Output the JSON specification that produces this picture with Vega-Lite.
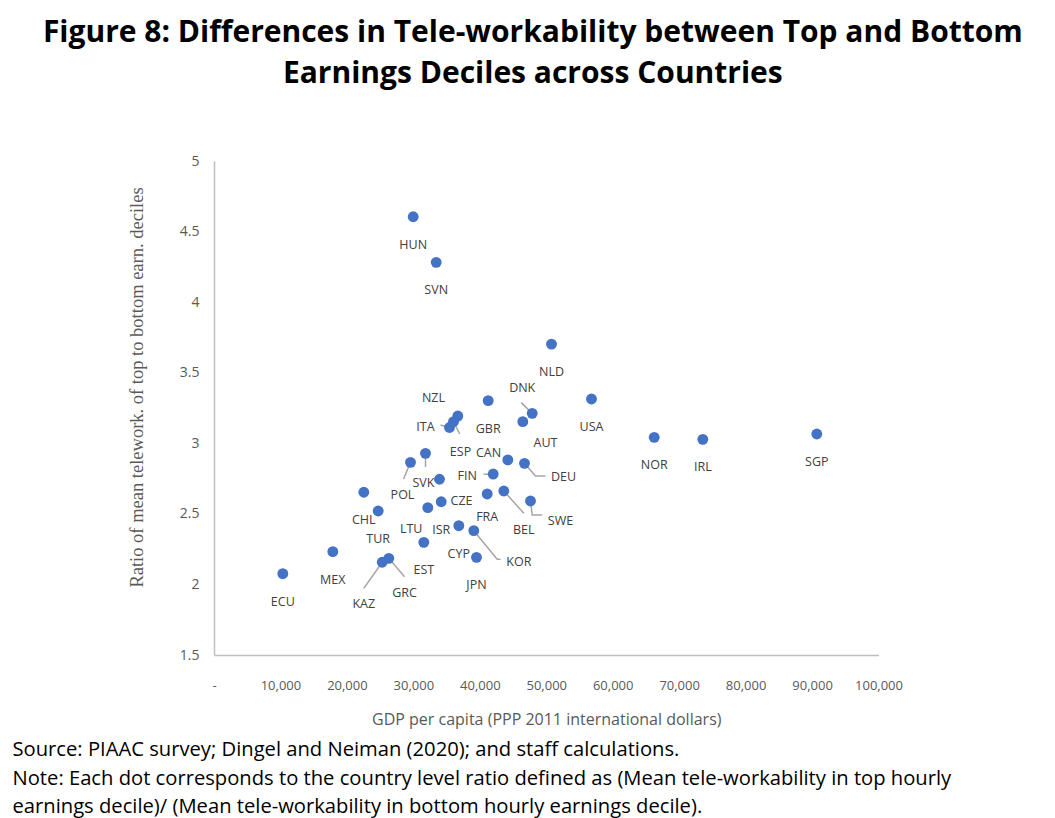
{
  "$schema": "https://vega.github.io/schema/vega-lite/v6.json",
  "background": "white",
  "padding": {"left": 12, "top": 18, "right": 5, "bottom": 0},
  "title": {
    "text": ["Figure 8: Differences in Tele-workability between Top and Bottom", "Earnings Deciles across Countries"],
    "font": "Open Sans",
    "fontSize": 30,
    "fontWeight": "bold",
    "lineHeight": 41,
    "color": "#000000",
    "anchor": "middle",
    "dx": 51,
    "offset": 65
  },
  "datasets": {
    "countries": [
      {"country": "ECU", "gdp": 10354, "ratio": 2.076},
      {"country": "MEX", "gdp": 17878, "ratio": 2.232},
      {"country": "CHL", "gdp": 22543, "ratio": 2.653},
      {"country": "TUR", "gdp": 24710, "ratio": 2.520},
      {"country": "KAZ", "gdp": 25312, "ratio": 2.157, "lx": 22543, "ly": 1.861},
      {"country": "GRC", "gdp": 26306, "ratio": 2.185, "lx": 28668, "ly": 1.941},
      {"country": "EST", "gdp": 31573, "ratio": 2.298},
      {"country": "POL", "gdp": 29571, "ratio": 2.865, "lx": 28367, "ly": 2.634},
      {"country": "SVK", "gdp": 31829, "ratio": 2.929, "lx": 31528, "ly": 2.721},
      {"country": "CZE", "gdp": 33935, "ratio": 2.745, "lx": 37246, "ly": 2.593},
      {"country": "LTU", "gdp": 32175, "ratio": 2.544, "lx": 29677, "ly": 2.391},
      {"country": "ISR", "gdp": 34191, "ratio": 2.586},
      {"country": "CYP", "gdp": 36840, "ratio": 2.416},
      {"country": "KOR", "gdp": 39097, "ratio": 2.381, "lx": 45869, "ly": 2.161},
      {"country": "JPN", "gdp": 39504, "ratio": 2.192},
      {"country": "FRA", "gdp": 41114, "ratio": 2.641, "lx": 41114, "ly": 2.476},
      {"country": "BEL", "gdp": 43612, "ratio": 2.662, "lx": 46622, "ly": 2.386},
      {"country": "SWE", "gdp": 47630, "ratio": 2.591, "lx": 52145, "ly": 2.451},
      {"country": "FIN", "gdp": 42017, "ratio": 2.782, "lx": 38104, "ly": 2.768},
      {"country": "CAN", "gdp": 44214, "ratio": 2.882, "lx": 41310, "ly": 2.931},
      {"country": "DEU", "gdp": 46727, "ratio": 2.858, "lx": 52596, "ly": 2.761},
      {"country": "AUT", "gdp": 46471, "ratio": 3.153, "lx": 49887, "ly": 3.000},
      {"country": "DNK", "gdp": 47886, "ratio": 3.212, "lx": 46381, "ly": 3.390},
      {"country": "GBR", "gdp": 41264, "ratio": 3.302},
      {"country": "NZL", "gdp": 36689, "ratio": 3.193, "lx": 33033, "ly": 3.321},
      {"country": "ESP", "gdp": 36042, "ratio": 3.153, "lx": 37096, "ly": 2.940},
      {"country": "ITA", "gdp": 35440, "ratio": 3.112, "lx": 31829, "ly": 3.117},
      {"country": "NLD", "gdp": 50790, "ratio": 3.703},
      {"country": "USA", "gdp": 56810, "ratio": 3.314},
      {"country": "NOR", "gdp": 66246, "ratio": 3.042},
      {"country": "IRL", "gdp": 73560, "ratio": 3.028},
      {"country": "SGP", "gdp": 90715, "ratio": 3.066},
      {"country": "HUN", "gdp": 29978, "ratio": 4.605},
      {"country": "SVN", "gdp": 33439, "ratio": 4.282}
    ],
    "leaders": [
      {"country": "POL", "seq": 0, "gdp": 29571, "ratio": 2.865},
      {"country": "POL", "seq": 1, "gdp": 28518, "ratio": 2.747},
      {"country": "SVK", "seq": 0, "gdp": 31829, "ratio": 2.929},
      {"country": "SVK", "seq": 1, "gdp": 31829, "ratio": 2.832},
      {"country": "ITA", "seq": 0, "gdp": 35440, "ratio": 3.112},
      {"country": "ITA", "seq": 1, "gdp": 34086, "ratio": 3.129},
      {"country": "ESP", "seq": 0, "gdp": 36042, "ratio": 3.153},
      {"country": "ESP", "seq": 1, "gdp": 36990, "ratio": 3.066},
      {"country": "DNK", "seq": 0, "gdp": 47886, "ratio": 3.212},
      {"country": "DNK", "seq": 1, "gdp": 46231, "ratio": 3.288},
      {"country": "FIN", "seq": 0, "gdp": 42017, "ratio": 2.782},
      {"country": "FIN", "seq": 1, "gdp": 40557, "ratio": 2.780},
      {"country": "DEU", "seq": 0, "gdp": 46727, "ratio": 2.858},
      {"country": "DEU", "seq": 1, "gdp": 48382, "ratio": 2.768},
      {"country": "DEU", "seq": 2, "gdp": 49887, "ratio": 2.768},
      {"country": "BEL", "seq": 0, "gdp": 43612, "ratio": 2.662},
      {"country": "BEL", "seq": 1, "gdp": 46622, "ratio": 2.504},
      {"country": "SWE", "seq": 0, "gdp": 47630, "ratio": 2.591},
      {"country": "SWE", "seq": 1, "gdp": 47886, "ratio": 2.492},
      {"country": "SWE", "seq": 2, "gdp": 49391, "ratio": 2.492},
      {"country": "KOR", "seq": 0, "gdp": 39097, "ratio": 2.381},
      {"country": "KOR", "seq": 1, "gdp": 42619, "ratio": 2.178},
      {"country": "KOR", "seq": 2, "gdp": 43115, "ratio": 2.178},
      {"country": "KAZ", "seq": 0, "gdp": 25312, "ratio": 2.157},
      {"country": "KAZ", "seq": 1, "gdp": 22543, "ratio": 1.972},
      {"country": "GRC", "seq": 0, "gdp": 26306, "ratio": 2.185},
      {"country": "GRC", "seq": 1, "gdp": 28668, "ratio": 2.055}
    ]
  },
  "vconcat": [
    {
      "width": 664.5,
      "height": 494,
      "title": {
        "text": ["Source: PIAAC survey; Dingel and Neiman (2020); and staff calculations.", "Note: Each dot corresponds to the country level ratio defined as (Mean tele-workability in top hourly", "earnings decile)/ (Mean tele-workability in bottom hourly earnings decile)."],
        "orient": "bottom",
        "anchor": "start",
        "frame": "group",
        "dx": -201.5,
        "font": "Open Sans",
        "fontSize": 20.2,
        "fontWeight": "normal",
        "lineHeight": 28.5,
        "color": "#000000",
        "offset": 13
      },
      "layer": [
        {
          "data": {"name": "leaders"},
          "mark": {"type": "line", "color": "#a5a5a5", "strokeWidth": 1.5},
          "encoding": {
            "x": {"field": "gdp", "type": "quantitative", "title": "GDP per capita (PPP 2011 international dollars)", "scale": {"domain": [0, 100000], "nice": false},
              "axis": {"values": [0, 10000, 20000, 30000, 40000, 50000, 60000, 70000, 80000, 90000, 100000], "labelExpr": "datum.value == 0 ? '-' : format(datum.value, ',')", "labelOverlap": false, "labelFlush": false}},
            "y": {"field": "ratio", "type": "quantitative", "title": "Ratio of mean telework. of top to bottom earn. deciles", "scale": {"domain": [1.5, 5], "nice": false},
              "axis": {"values": [1.5, 2, 2.5, 3, 3.5, 4, 4.5, 5], "format": "~g", "labelOverlap": false}},
            "detail": {"field": "country"},
            "order": {"field": "seq", "type": "quantitative"}
          }
        },
        {
          "data": {"name": "countries"},
          "mark": {"type": "circle", "color": "#4472C4", "opacity": 1, "size": 118},
          "encoding": {
            "x": {"field": "gdp", "type": "quantitative", "title": "GDP per capita (PPP 2011 international dollars)", "scale": {"domain": [0, 100000], "nice": false},
              "axis": {"values": [0, 10000, 20000, 30000, 40000, 50000, 60000, 70000, 80000, 90000, 100000], "labelExpr": "datum.value == 0 ? '-' : format(datum.value, ',')", "labelOverlap": false, "labelFlush": false}},
            "y": {"field": "ratio", "type": "quantitative", "title": "Ratio of mean telework. of top to bottom earn. deciles", "scale": {"domain": [1.5, 5], "nice": false},
              "axis": {"values": [1.5, 2, 2.5, 3, 3.5, 4, 4.5, 5], "format": "~g", "labelOverlap": false}},
            "tooltip": [{"field": "country"}, {"field": "gdp", "type": "quantitative"}, {"field": "ratio", "type": "quantitative"}]
          }
        },
        {
          "data": {"name": "countries"},
          "transform": [{"filter": "datum.lx == null"}],
          "mark": {"type": "text", "font": "Open Sans", "fontSize": 12.5, "color": "#404040", "dy": 28, "baseline": "middle", "align": "center"},
          "encoding": {
            "x": {"field": "gdp", "type": "quantitative", "title": "GDP per capita (PPP 2011 international dollars)",
              "axis": {"values": [0, 10000, 20000, 30000, 40000, 50000, 60000, 70000, 80000, 90000, 100000], "labelExpr": "datum.value == 0 ? '-' : format(datum.value, ',')", "labelOverlap": false, "labelFlush": false}},
            "y": {"field": "ratio", "type": "quantitative", "title": "Ratio of mean telework. of top to bottom earn. deciles",
              "axis": {"values": [1.5, 2, 2.5, 3, 3.5, 4, 4.5, 5], "format": "~g", "labelOverlap": false}},
            "text": {"field": "country"}
          }
        },
        {
          "data": {"name": "countries"},
          "transform": [{"filter": "datum.lx != null"}],
          "mark": {"type": "text", "font": "Open Sans", "fontSize": 12.5, "color": "#404040", "baseline": "middle", "align": "center"},
          "encoding": {
            "x": {"field": "lx", "type": "quantitative", "title": "GDP per capita (PPP 2011 international dollars)",
              "axis": {"values": [0, 10000, 20000, 30000, 40000, 50000, 60000, 70000, 80000, 90000, 100000], "labelExpr": "datum.value == 0 ? '-' : format(datum.value, ',')", "labelOverlap": false, "labelFlush": false}},
            "y": {"field": "ly", "type": "quantitative", "title": "Ratio of mean telework. of top to bottom earn. deciles",
              "axis": {"values": [1.5, 2, 2.5, 3, 3.5, 4, 4.5, 5], "format": "~g", "labelOverlap": false}},
            "text": {"field": "country"}
          }
        }
      ]
    }
  ],
  "config": {
    "view": {"stroke": null},
    "concat": {"spacing": 0},
    "axisX": {
      "grid": false, "ticks": false,
      "domainColor": "#bfbfbf", "domainWidth": 1.5,
      "labelFont": "Open Sans", "labelFontSize": 13, "labelColor": "#595959",
      "labelPadding": 24,
      "titleFont": "Open Sans", "titleFontSize": 16, "titleFontWeight": "normal", "titleColor": "#595959",
      "titlePadding": 19
    },
    "axisY": {
      "grid": false, "ticks": false,
      "domainColor": "#bfbfbf", "domainWidth": 1.5,
      "labelFont": "Open Sans", "labelFontSize": 14, "labelColor": "#595959",
      "labelPadding": 15,
      "titleFont": "Liberation Serif", "titleFontSize": 18.5, "titleFontWeight": "normal", "titleColor": "#595959",
      "titleX": -78, "titleY": 226, "titleBaseline": "middle", "titleAlign": "center", "titleAngle": -90
    }
  }
}
